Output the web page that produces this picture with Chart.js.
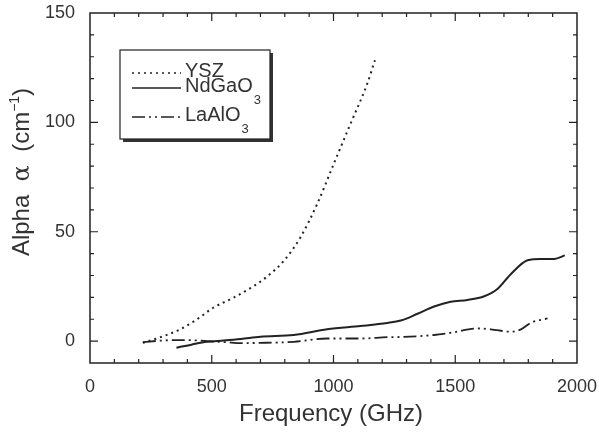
<!DOCTYPE html>
<html>
<head>
<meta charset="utf-8">
<script src="https://cdn.jsdelivr.net/npm/chart.js@4"></script>
<style>
html, body { margin: 0; padding: 0; background: #fff; }
#wrap { width: 599px; height: 432px; }
</style>
</head>
<body>
<div id="wrap"><canvas id="alphaChart"></canvas></div>
<script>
// values
const yszFreq = [217, 300, 370, 440, 507, 590, 660, 727, 796, 864, 933, 1001, 1070, 1139, 1170];
const yszAlpha = [-0.8, 2.2, 5.4, 10, 15.3, 19.9, 24.3, 29.5, 36.7, 47.4, 62.7, 81, 99.4, 117.8, 128.4];

const ndgFreq = [355, 420, 480, 550, 620, 700, 837, 974, 1111, 1221, 1276, 1345, 1413, 1481, 1550, 1619, 1673, 1728, 1797, 1852, 1907, 1950];
const ndgAlpha = [-3, -1.5, -0.3, 0.3, 1, 2, 2.8, 5.4, 6.9, 8.3, 9.4, 12.5, 15.8, 18, 18.8, 20.5, 23.8, 30.6, 37, 37.6, 37.6, 39.2];

const laaFreq = [217, 300, 400, 480, 560, 620, 700, 837, 974, 1111, 1221, 1276, 1413, 1481, 1591, 1646, 1728, 1770, 1811, 1879];
const laaAlpha = [-0.5, 0.3, 0.5, 0, -0.5, -0.9, -0.8, -0.3, 1.2, 1.2, 1.8, 1.9, 2.8, 3.8, 5.8, 5.4, 4.3, 5.4, 8.4, 10.4];

const xTicks = [0, 500, 1000, 1500, 2000];
const yTicks = [0, 50, 100, 150];

const ink = "#222";
const FONT = "'Liberation Sans', Arial, sans-serif";

function pts(xs, ys) {
  return xs.map((x, i) => ({ x: x, y: ys[i] }));
}

const dashYSZ = [2, 4];
const dashLaA = [13, 4, 2, 4, 2, 4];

// frame, inward ticks, axis titles and legend
const decor = {
  id: "decor",
  afterDraw(chart) {
    const ctx = chart.ctx;
    const a = chart.chartArea;
    const xs = chart.scales.x, ys = chart.scales.y;
    ctx.save();
    ctx.strokeStyle = ink;
    ctx.lineWidth = 1.5;
    ctx.strokeRect(a.left, a.top, a.right - a.left, a.bottom - a.top);

    ctx.lineWidth = 1.2;
    ctx.beginPath();
    for (let v = 100; v < 2000; v += 100) {
      const px = xs.getPixelForValue(v);
      const len = v % 500 === 0 ? 8 : 4;
      ctx.moveTo(px, a.bottom); ctx.lineTo(px, a.bottom - len);
      ctx.moveTo(px, a.top); ctx.lineTo(px, a.top + len);
    }
    for (let v = 0; v < 150; v += 10) {
      const py = ys.getPixelForValue(v);
      const len = v % 50 === 0 ? 8 : 4;
      ctx.moveTo(a.left, py); ctx.lineTo(a.left + len, py);
      ctx.moveTo(a.right, py); ctx.lineTo(a.right - len, py);
    }
    ctx.stroke();

    // x title
    ctx.fillStyle = "#333";
    ctx.font = "24px " + FONT;
    ctx.textAlign = "center";
    ctx.textBaseline = "alphabetic";
    ctx.fillText("Frequency (GHz)", 331, 421);

    // y title, rotated
    ctx.save();
    ctx.translate(29, 172);
    ctx.rotate(-Math.PI / 2);
    const parts = [
      { t: "Alpha  ", f: "24px " + FONT, dy: 0 },
      { t: "\u03b1", f: "24px 'DejaVu Serif', serif", dy: 0 },
      { t: "  (cm", f: "24px " + FONT, dy: 0 },
      { t: "\u22121", f: "14px " + FONT, dy: -10 },
      { t: ")", f: "24px " + FONT, dy: 0 }
    ];
    let total = 0;
    parts.forEach(p => { ctx.font = p.f; p.w = ctx.measureText(p.t).width; total += p.w; });
    let cx = -total / 2;
    ctx.textAlign = "left";
    parts.forEach(p => { ctx.font = p.f; ctx.fillText(p.t, cx, p.dy); cx += p.w; });
    ctx.restore();

    // legend box with shadow
    const bx = 120, by = 50, bw = 150, bh = 89;
    ctx.fillStyle = "#333";
    ctx.fillRect(bx + 3, by + 3, bw, bh);
    ctx.fillStyle = "#fff";
    ctx.fillRect(bx, by, bw, bh);
    ctx.strokeStyle = ink;
    ctx.lineWidth = 1.2;
    ctx.strokeRect(bx, by, bw, bh);

    const rows = [
      { y: 73, dash: dashYSZ, name: "YSZ", sub: "" },
      { y: 88, dash: [], name: "NdGaO", sub: "3" },
      { y: 117, dash: dashLaA, name: "LaAlO", sub: "3" }
    ];
    rows.forEach(r => {
      ctx.strokeStyle = ink;
      ctx.lineWidth = 1.6;
      ctx.setLineDash(r.dash);
      ctx.beginPath();
      ctx.moveTo(132, r.y); ctx.lineTo(181, r.y);
      ctx.stroke();
      ctx.setLineDash([]);
      ctx.fillStyle = "#333";
      ctx.font = "20px " + FONT;
      ctx.textAlign = "left";
      ctx.textBaseline = "middle";
      ctx.fillText(r.name, 185, r.y - 2);
      if (r.sub) {
        const w = ctx.measureText(r.name).width;
        ctx.font = "13px " + FONT;
        ctx.fillText(r.sub, 185 + w + 1, r.y + 12);
      }
    });
    ctx.restore();
  }
};

new Chart(document.getElementById("alphaChart"), {
  type: "line",
  data: {
    datasets: [
      { label: "YSZ", data: pts(yszFreq, yszAlpha), borderColor: ink, borderWidth: 2, borderDash: dashYSZ },
      { label: "NdGaO3", data: pts(ndgFreq, ndgAlpha), borderColor: ink, borderWidth: 2 },
      { label: "LaAlO3", data: pts(laaFreq, laaAlpha), borderColor: ink, borderWidth: 1.8, borderDash: dashLaA }
    ]
  },
  options: {
    responsive: true,
    maintainAspectRatio: false,
    animation: false,
    elements: { point: { radius: 0 }, line: { cubicInterpolationMode: "monotone", fill: false } },
    layout: { padding: { top: 13, right: 22, left: 0, bottom: 0 } },
    plugins: { legend: { display: false }, tooltip: { enabled: false } },
    scales: {
      x: {
        type: "linear", min: 0, max: 2000,
        grid: { display: false, drawTicks: false },
        border: { display: false },
        afterBuildTicks: s => { s.ticks = xTicks.map(v => ({ value: v })); },
        afterFit: s => { s.height = 69; s.paddingLeft = 0; s.paddingRight = 0; },
        ticks: { color: "#333", padding: 13, maxRotation: 0, font: { family: FONT, size: 18 }, callback: v => String(v) }
      },
      y: {
        type: "linear", min: -10, max: 150,
        grid: { display: false, drawTicks: false },
        border: { display: false },
        afterBuildTicks: s => { s.ticks = yTicks.map(v => ({ value: v })); },
        afterFit: s => { s.width = 90; s.paddingTop = 0; s.paddingBottom = 0; },
        ticks: { color: "#333", padding: 15, font: { family: FONT, size: 18 }, callback: v => String(v) }
      }
    }
  },
  plugins: [decor]
});
</script>
</body>
</html>
